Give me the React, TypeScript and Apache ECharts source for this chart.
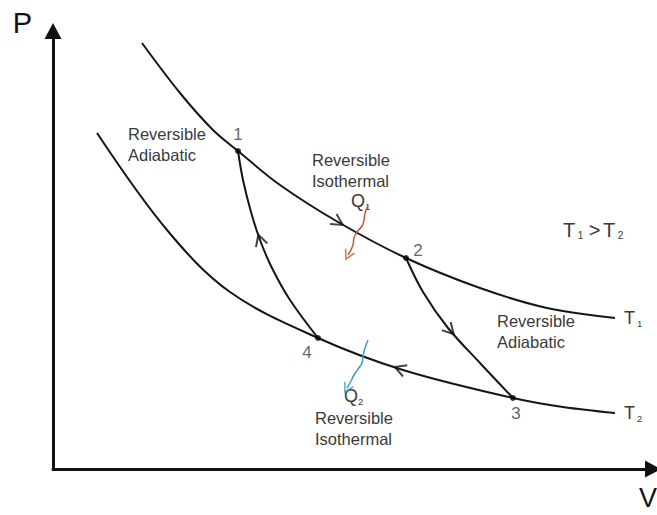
import React, { useEffect, useRef } from "react";
import * as echarts from "echarts";

// P–V diagram of a Carnot cycle (arbitrary units)
const isothermT1V = [89, 127, 160, 185, 227, 285, 353, 427, 494, 562];
const isothermT1P = [426, 376, 339, 318, 284, 247, 211, 181, 161, 151];
const isothermT2V = [44, 114, 177, 265, 350, 460, 510, 562];
const isothermT2P = [336, 239, 177, 131, 99, 71, 62, 56];
const adiabat14V = [185, 190, 198, 207, 219, 237, 265];
const adiabat14P = [318, 289, 257, 229, 201, 169, 131];
const adiabat23V = [353, 370, 395, 427, 460];
const adiabat23P = [211, 177, 141, 106, 71];

const stateNames = ["1", "2", "3", "4"];
const stateV = [185, 353, 460, 265];
const stateP = [318, 211, 71, 131];

const heatQ1V = [315, 312, 311, 309, 304, 301, 300, 295];
const heatQ1P = [263, 256, 249, 243, 237, 231, 224, 214];
const heatQ2V = [315, 312, 310, 309, 305, 301, 298, 294];
const heatQ2P = [129, 121, 113, 106, 100, 94, 88, 81];

// direction arrows on the cycle: which curve, at which V, forward (1) or reverse (-1)
const arrowCurve = ["T1", "A14", "A23", "T2"];
const arrowV = [285, 207, 397, 347];
const arrowDir = [1, -1, 1, -1];

const FONT = '"Liberation Sans", Arial, Helvetica, sans-serif';
const TEXT = "#3a3a3a";
const LINE = "#161616";
const Q1_COLOR = "#c0583c";
const Q2_COLOR = "#3d9cc6";
const CHEVRON = "path://M0,0L10,5L0,10";

const stateLabelOffset: Record<string, number[]> = {
  "1": [0, -17],
  "2": [12, -8],
  "3": [3, 15],
  "4": [-11, 14],
};

const zip = (vs: number[], ps: number[]) => vs.map((v, i) => [v, ps[i]]);

const curves: Record<string, { v: number[]; p: number[] }> = {
  T1: { v: isothermT1V, p: isothermT1P },
  T2: { v: isothermT2V, p: isothermT2P },
  A14: { v: adiabat14V, p: adiabat14P },
  A23: { v: adiabat23V, p: adiabat23P },
};

function onCurve(vs: number[], ps: number[], v: number, dir: number) {
  for (let i = 0; i < vs.length - 1; i++) {
    if (v >= vs[i] && v <= vs[i + 1]) {
      const t = (v - vs[i]) / (vs[i + 1] - vs[i]);
      const p = ps[i] + t * (ps[i + 1] - ps[i]);
      const ang =
        (Math.atan2((ps[i + 1] - ps[i]) * dir, (vs[i + 1] - vs[i]) * dir) * 180) / Math.PI;
      return { p, ang };
    }
  }
  return { p: ps[0], ang: 0 };
}

function endArrow(vs: number[], ps: number[], color: string) {
  const n = vs.length;
  const ang =
    (Math.atan2(ps[n - 1] - ps[n - 2], vs[n - 1] - vs[n - 2]) * 180) / Math.PI;
  return {
    value: [vs[n - 1], ps[n - 1]],
    symbolRotate: ang,
    symbolSize: [9, 10],
    itemStyle: { color: "none", borderColor: color, borderWidth: 1.5 },
  };
}

const subRich = {
  t: { fontSize: 18, lineHeight: 20, fontFamily: FONT, color: TEXT },
  g: { fontSize: 7, fontFamily: FONT, color: TEXT, verticalAlign: "bottom" },
  s: { fontSize: 9.5, fontFamily: FONT, color: TEXT, verticalAlign: "bottom" },
};

const bigRich = {
  t: { fontSize: 20, lineHeight: 20, fontFamily: FONT, color: TEXT },
  g: { fontSize: 9, fontFamily: FONT, color: TEXT, verticalAlign: "bottom" },
  s: { fontSize: 10, fontFamily: FONT, color: TEXT, verticalAlign: "bottom" },
};

export default function App() {
  const ref = useRef<HTMLDivElement>(null);
  useEffect(() => {
    if (!ref.current) return;
    const chart = echarts.init(ref.current, undefined, { renderer: "svg" });

    const arrowData = arrowCurve.map((c, i) => {
      const cv = curves[c];
      const { p, ang } = onCurve(cv.v, cv.p, arrowV[i], arrowDir[i]);
      return {
        value: [arrowV[i], p],
        symbolRotate: ang,
        symbolSize: [11, 12],
        itemStyle: { color: "none", borderColor: LINE, borderWidth: 2 },
      };
    });
    arrowData.push(endArrow(heatQ1V, heatQ1P, Q1_COLOR) as any);
    arrowData.push(endArrow(heatQ2V, heatQ2P, Q2_COLOR) as any);

    const curveSeries = (name: string, vs: number[], ps: number[], extra: any = {}) => ({
      type: "line",
      name,
      data: zip(vs, ps),
      smooth: 0.35,
      symbol: "none",
      lineStyle: { color: LINE, width: 2 },
      z: 2,
      ...extra,
    });

    const tLabel = (sub: string) => ({
      show: true,
      distance: 9,
      formatter: `{t|T}{g| }{s|${sub}}`,
      rich: subRich,
    });

    const textBlock = (x: number, y: number, text: string) => ({
      type: "text",
      x,
      y,
      style: {
        text,
        fontSize: 16.5,
        fontFamily: FONT,
        lineHeight: 20.5,
        fill: TEXT,
        align: "left",
        verticalAlign: "top",
      },
    });

    const richBlock = (x: number, y: number, text: string, rich: any) => ({
      type: "text",
      x,
      y,
      style: {
        text,
        rich,
        fontSize: 18,
        fontFamily: FONT,
        fill: TEXT,
        align: "left",
        verticalAlign: "top",
      },
    });

    chart.setOption({
      animation: false,
      backgroundColor: "#ffffff",
      grid: { left: 53, right: 4, top: 31, bottom: 46, containLabel: false, outerBoundsMode: "none" },
      xAxis: {
        type: "value",
        min: 0,
        max: 600,
        name: "V",
        nameLocation: "end",
        nameGap: -14,
        nameTextStyle: {
          fontSize: 27,
          lineHeight: 26,
          fontFamily: FONT,
          color: "#111",
          align: "left",
          verticalAlign: "top",
          padding: [16, 0, 0, 0],
        },
        axisLine: {
          show: true,
          symbol: ["none", "triangle"],
          symbolSize: [17, 16],
          lineStyle: { color: "#111", width: 3 },
        },
        axisTick: { show: false },
        axisLabel: { show: false },
        splitLine: { show: false },
      },
      yAxis: {
        type: "value",
        min: 0,
        max: 438,
        name: "P",
        nameLocation: "end",
        nameGap: 8,
        nameTextStyle: {
          fontSize: 29,
          fontFamily: FONT,
          color: "#111",
          align: "right",
          verticalAlign: "middle",
          padding: [0, 21, 0, 0],
        },
        axisLine: {
          show: true,
          symbol: ["none", "triangle"],
          symbolSize: [17, 16],
          lineStyle: { color: "#111", width: 3 },
        },
        axisTick: { show: false },
        axisLabel: { show: false },
        splitLine: { show: false },
      },
      series: [
        curveSeries("T1 isotherm", isothermT1V, isothermT1P, { endLabel: tLabel("1") }),
        curveSeries("T2 isotherm", isothermT2V, isothermT2P, { endLabel: tLabel("2") }),
        curveSeries("Adiabat 4-1", adiabat14V, adiabat14P),
        curveSeries("Adiabat 2-3", adiabat23V, adiabat23P),
        curveSeries("Q1", heatQ1V, heatQ1P, {
          lineStyle: { color: Q1_COLOR, width: 1.5 },
          smooth: 0.5,
        }),
        curveSeries("Q2", heatQ2V, heatQ2P, {
          lineStyle: { color: Q2_COLOR, width: 1.5 },
          smooth: 0.5,
        }),
        {
          type: "scatter",
          name: "arrows",
          symbol: CHEVRON,
          data: arrowData,
          z: 3,
          silent: true,
        },
        {
          type: "scatter",
          name: "states",
          symbol: "circle",
          symbolSize: 6,
          itemStyle: { color: "#000" },
          z: 4,
          data: stateNames.map((n, i) => ({
            name: n,
            value: [stateV[i], stateP[i]],
            label: {
              show: true,
              formatter: "{b}",
              position: "inside",
              offset: stateLabelOffset[n],
              fontSize: 17,
              fontFamily: FONT,
              color: TEXT,
            },
          })),
        },
      ],
      graphic: [
        textBlock(128, 124, "Reversible\nAdiabatic"),
        textBlock(312, 150, "Reversible\nIsothermal"),
        textBlock(497, 311, "Reversible\nAdiabatic"),
        textBlock(315, 408, "Reversible\nIsothermal"),
        richBlock(563, 220, "{t|T}{g| }{s|1}{t| >}{g| }{t|T}{g| }{s|2}", bigRich),
        richBlock(351, 191, "{t|Q}{s|1}", subRich),
        richBlock(344, 386, "{t|Q}{s|2}", subRich),
      ],
    });
    return () => chart.dispose();
  }, []);
  return <div ref={ref} style={{ width: 657, height: 515, position: "absolute", left: 0, top: 0 }} />;
}
